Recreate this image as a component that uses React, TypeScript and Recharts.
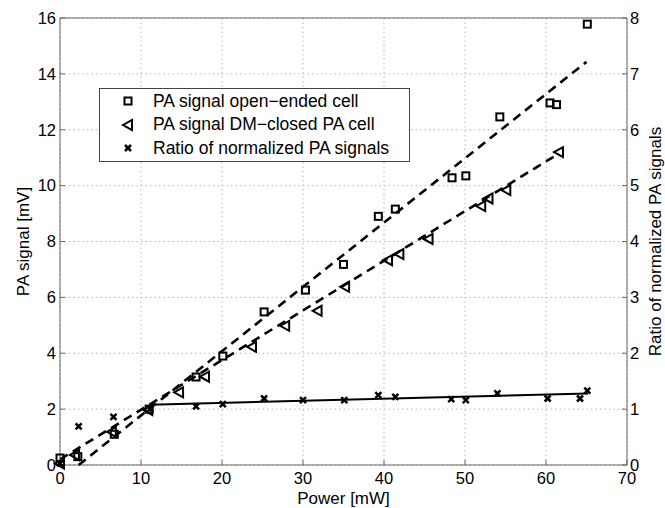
import {
  ComposedChart,
  Scatter,
  XAxis,
  YAxis,
  CartesianGrid,
  Legend,
} from "recharts";

// open-ended cell
const powerOpen = [0, 2.2, 6.7, 11.0, 16.8, 20.1, 25.2, 30.3, 35.0, 39.3, 41.4, 48.4, 50.1, 54.3, 60.5, 61.3, 65.1];
const signalOpen = [0.25, 0.3, 1.1, 2.0, 3.15, 3.9, 5.48, 6.26, 7.18, 8.9, 9.16, 10.28, 10.35, 12.46, 12.96, 12.9, 15.78];

// DM-closed cell
const powerClosed = [0, 1.85, 6.4, 10.9, 14.7, 17.9, 23.7, 27.8, 31.8, 35.2, 40.5, 41.9, 45.5, 52.0, 52.9, 55.1, 61.6];
const signalClosed = [0.05, 0.36, 1.19, 1.97, 2.6, 3.16, 4.23, 4.98, 5.52, 6.38, 7.33, 7.55, 8.09, 9.27, 9.54, 9.84, 11.2];

// ratio of normalized signals (right axis)
const powerRatio = [0, 2.3, 6.6, 11.1, 16.8, 20.1, 25.2, 30.0, 35.1, 39.3, 41.4, 48.3, 50.1, 54.0, 60.2, 64.2, 65.1];
const ratio = [0.03, 0.69, 0.86, 1.0, 1.05, 1.09, 1.19, 1.16, 1.16, 1.25, 1.22, 1.18, 1.16, 1.28, 1.19, 1.19, 1.33];

// linear fits
const fitOpenX = [2.3, 65.0];
const fitOpenY = [0, 14.43];
const fitClosedX = [0, 61.6];
const fitClosedY = [0.2, 11.15];
const fitRatioX = [11.1, 65.2];
const fitRatioY = [1.08, 1.28];

const xTicks = [0, 10, 20, 30, 40, 50, 60, 70];
const leftTicks = [0, 2, 4, 6, 8, 10, 12, 14, 16];
const rightTicks = [0, 1, 2, 3, 4, 5, 6, 7, 8];

const legendLabels = [
  "PA signal open\u2212ended cell",
  "PA signal DM\u2212closed PA cell",
  "Ratio of normalized PA signals",
];

const FONT = "'Liberation Sans', Arial, sans-serif";
const FRAME = "#666";

const zip = (xs: number[], ys: number[]) => xs.map((x, i) => ({ x, y: ys[i] }));

const SquareMark = (p: any) => (
  <rect x={p.cx - 3.5} y={p.cy - 3.5} width={7} height={7} fill="none" stroke="#000" strokeWidth={2} />
);

const TriangleMark = (p: any) => (
  <polygon
    points={`${p.cx - 5},${p.cy} ${p.cx + 4},${p.cy - 5} ${p.cx + 4},${p.cy + 5}`}
    fill="none"
    stroke="#000"
    strokeWidth={2}
  />
);

const CrossMark = (p: any) => (
  <path
    d={`M${p.cx - 3},${p.cy - 3}L${p.cx + 3},${p.cy + 3}M${p.cx - 3},${p.cy + 3}L${p.cx + 3},${p.cy - 3}`}
    stroke="#000"
    strokeWidth={2.5}
  />
);

const NoMark = () => <g />;

function LegendBox() {
  const icons = [
    <rect key="s" x={6.5} y={6.5} width={7} height={7} fill="none" stroke="#000" strokeWidth={2} />,
    <polygon key="t" points="5,10 14,5 14,15" fill="none" stroke="#000" strokeWidth={2} />,
    <path key="c" d="M7,7L13,13M7,13L13,7" stroke="#000" strokeWidth={2.5} />,
  ];
  return (
    <div
      style={{
        width: "100%",
        height: "100%",
        boxSizing: "border-box",
        border: "1px solid #444",
        background: "#fff",
        position: "relative",
        fontFamily: FONT,
        fontSize: 17.5,
        color: "#000",
      }}
    >
      {legendLabels.map((label, i) => (
        <div
          key={label}
          style={{ position: "absolute", left: 18, top: 1 + i * 23.5, height: 22, display: "flex", alignItems: "center" }}
        >
          <svg width={20} height={20} style={{ marginRight: 15 }}>
            {icons[i]}
          </svg>
          <span style={{ whiteSpace: "nowrap" }}>{label}</span>
        </div>
      ))}
    </div>
  );
}

export default function App() {
  const tickStyle = { fill: "#000", fontSize: 16.5, fontFamily: FONT };
  const labelStyle = { fill: "#000", fontSize: 17, fontFamily: FONT };
  return (
    <div style={{ position: "absolute", left: 0, top: 0, width: 665, height: 508, background: "#fff" }}>
      <ComposedChart width={665} height={508} margin={{ top: 17, right: 0, bottom: 0, left: 0 }}>
        <CartesianGrid xAxisId="bottom" yAxisId="left" stroke="#b5b5b5" strokeDasharray="1.5 3" />
        <XAxis
          xAxisId="bottom"
          type="number"
          dataKey="x"
          domain={[0, 70]}
          ticks={xTicks}
          height={43}
          stroke={FRAME}
          tickSize={-5}
          tickMargin={12}
          tick={tickStyle}
          label={{ value: "Power [mW]", position: "center", dy: 11, ...labelStyle }}
        />
        <XAxis
          xAxisId="top"
          orientation="top"
          type="number"
          dataKey="x"
          domain={[0, 70]}
          ticks={xTicks}
          height={1}
          stroke={FRAME}
          tickSize={-5}
          tick={false}
        />
        <YAxis
          yAxisId="left"
          type="number"
          dataKey="y"
          domain={[0, 16]}
          ticks={leftTicks}
          width={60}
          stroke={FRAME}
          tickSize={-5}
          tickMargin={9}
          tick={tickStyle}
          label={{ value: "PA signal [mV]", angle: -90, position: "center", dx: -7, ...labelStyle }}
        />
        <YAxis
          yAxisId="right"
          orientation="right"
          type="number"
          dataKey="y"
          domain={[0, 8]}
          ticks={rightTicks}
          width={38}
          stroke={FRAME}
          tickSize={-5}
          tickMargin={8}
          tick={tickStyle}
          label={{ value: "Ratio of normalized PA signals", angle: -90, position: "center", dx: 9, ...labelStyle }}
        />
        <Legend
          layout="vertical"
          align="center"
          verticalAlign="middle"
          wrapperStyle={{ left: 99, top: 88, width: 311, height: 74 }}
          content={() => <LegendBox />}
        />
        <Scatter
          name="fit open"
          xAxisId="bottom"
          yAxisId="left"
          data={zip(fitOpenX, fitOpenY)}
          shape={NoMark}
          line={{ stroke: "#000", strokeWidth: 2.6, strokeDasharray: "9 6" }}
          legendType="none"
          isAnimationActive={false}
        />
        <Scatter
          name="fit closed"
          xAxisId="bottom"
          yAxisId="left"
          data={zip(fitClosedX, fitClosedY)}
          shape={NoMark}
          line={{ stroke: "#000", strokeWidth: 2.6, strokeDasharray: "9 6" }}
          legendType="none"
          isAnimationActive={false}
        />
        <Scatter
          name="fit ratio"
          xAxisId="bottom"
          yAxisId="right"
          data={zip(fitRatioX, fitRatioY)}
          shape={NoMark}
          line={{ stroke: "#000", strokeWidth: 2 }}
          legendType="none"
          isAnimationActive={false}
        />
        <Scatter
          name={legendLabels[0]}
          xAxisId="bottom"
          yAxisId="left"
          data={zip(powerOpen, signalOpen)}
          shape={SquareMark}
          isAnimationActive={false}
        />
        <Scatter
          name={legendLabels[1]}
          xAxisId="bottom"
          yAxisId="left"
          data={zip(powerClosed, signalClosed)}
          shape={TriangleMark}
          isAnimationActive={false}
        />
        <Scatter
          name={legendLabels[2]}
          xAxisId="bottom"
          yAxisId="right"
          data={zip(powerRatio, ratio)}
          shape={CrossMark}
          isAnimationActive={false}
        />
      </ComposedChart>
    </div>
  );
}
